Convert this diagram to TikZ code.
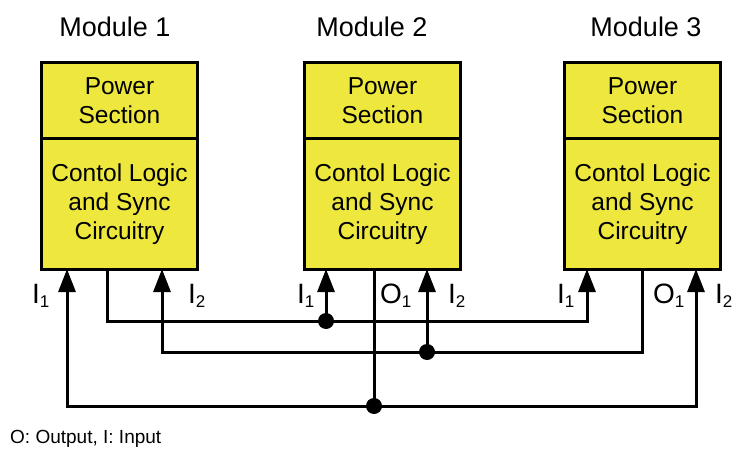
\documentclass[tikz,border=0pt]{standalone}
\usepackage{fontspec}
\setmainfont{Liberation Sans}
\usetikzlibrary{positioning,arrows.meta}
\definecolor{boxyellow}{RGB}{238,232,62}
\newcommand{\sig}[2]{#1\raisebox{-4pt}{\fontsize{17}{17}\selectfont #2}}
\begin{document}
\begin{tikzpicture}[x=1pt,y=-1pt,
  wire/.style={line width=3pt},
  arr/.style={-{Triangle[length=23pt,width=17pt]}},
  arrs/.style={{Triangle[length=23pt,width=17pt]}-{Triangle[length=23pt,width=17pt]}},
  part/.style={draw,line width=3pt,fill=boxyellow,outer sep=0pt,minimum width=156pt,
    align=center,font=\fontsize{24.5}{29}\selectfont},
  dot/.style={circle,fill,inner sep=0pt,minimum size=16pt},
  pin/.style={font=\fontsize{28}{28}\selectfont,anchor=base west,inner sep=0pt},
  title/.style={font=\fontsize{27}{27}\selectfont,anchor=base,inner sep=0pt}]
\useasboundingbox (0,0) rectangle (735,449);
% modules
\node[title] (t1) at (115,37) {Module 1};
\node[title] (t2) at (372,37) {Module 2};
\node[title] (t3) at (646,37) {Module 3};
\node[part,minimum height=76pt] (pow1) at (119.5,101) {Power\\Section};
\node[part,minimum height=130pt,below=0pt of pow1] (ctl1) {Contol Logic\\and Sync\\Circuitry};
\node[part,minimum height=76pt] (pow2) at (382.5,101) {Power\\Section};
\node[part,minimum height=130pt,below=0pt of pow2] (ctl2) {Contol Logic\\and Sync\\Circuitry};
\node[part,minimum height=76pt] (pow3) at (642.5,101) {Power\\Section};
\node[part,minimum height=130pt,below=0pt of pow3] (ctl3) {Contol Logic\\and Sync\\Circuitry};
% pins at the bottom of each module
\coordinate (m1i1) at (67,269);  \coordinate (m1o) at (107,269); \coordinate (m1i2) at (162,269);
\coordinate (m2i1) at (326,269); \coordinate (m2o) at (374,269); \coordinate (m2i2) at (427,269);
\coordinate (m3i1) at (587,269); \coordinate (m3o) at (642,269); \coordinate (m3i2) at (696,269);
% junctions
\coordinate (ja) at (326,321); \coordinate (jb) at (427,352); \coordinate (jc) at (374,406);
% wiring
\draw[wire,arr] (m1o) |- (ja) -| (m3i1);
\draw[wire,arr] (ja) -- (m2i1);
\draw[wire,arr] (m3o) |- (jb) -| (m1i2);
\draw[wire,arr] (jb) -- (m2i2);
\draw[wire,arrs] (m1i1) |- (jc) -| (m3i2);
\draw[wire] (m2o) -- (jc);
\node[dot] (da) at (ja) {}; \node[dot] (db) at (jb) {}; \node[dot] (dc) at (jc) {};
% pin labels
\node[pin] (l1i1) at (32,303) {\sig{I}{1}};
\node[pin] (l1i2) at (188,303) {\sig{I}{2}};
\node[pin] (l2i1) at (297,303) {\sig{I}{1}};
\node[pin] (l2o) at (380,303) {\sig{O}{1}};
\node[pin] (l2i2) at (448,303) {\sig{I}{2}};
\node[pin] (l3i1) at (557,303) {\sig{I}{1}};
\node[pin] (l3o) at (653,303) {\sig{O}{1}};
\node[pin] (l3i2) at (715,303) {\sig{I}{2}};
\node[font=\fontsize{19}{19}\selectfont,anchor=base west,inner sep=0pt] (key) at (10,443) {O: Output, I: Input};
\end{tikzpicture}
\end{document}
